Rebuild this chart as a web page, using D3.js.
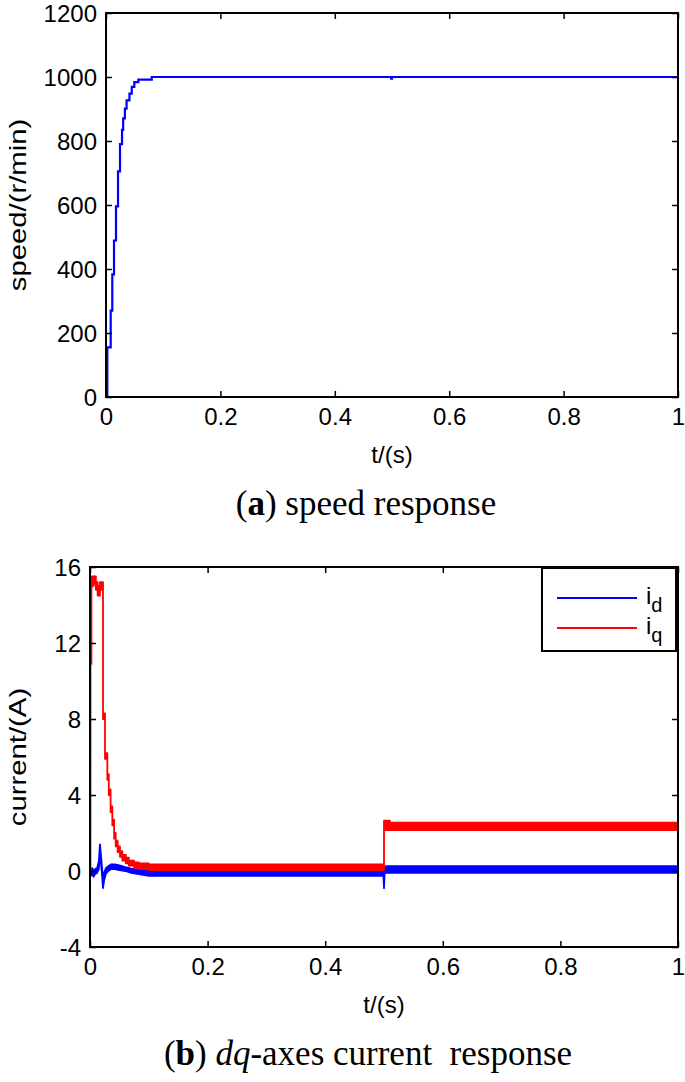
<!DOCTYPE html>
<html>
<head>
<meta charset="utf-8">
<script src="https://cdn.jsdelivr.net/npm/d3@7"></script>
<style>
  html, body { margin: 0; padding: 0; background: #fff; }
  svg text { font-family: "Liberation Sans", Arial, sans-serif; }
  .cap { font-family: "Liberation Serif", "Times New Roman", serif; }
</style>
</head>
<body>
<svg id="chart" width="685" height="1082"></svg>
<script>
// ---------- data ----------
// (a) speed response (staircase)
const speedT = [0, 0.0023, 0.0082, 0.011, 0.014, 0.0175, 0.021, 0.0245, 0.028, 0.030, 0.033, 0.036, 0.041, 0.045, 0.0495, 0.0565, 0.080, 0.4985, 0.5, 0.502, 1.0];
const speedV = [0, 155, 270, 383, 489, 596, 705, 790, 835, 871, 901, 927, 948, 969, 984, 992, 1000, 995, 1000, 1000, 1000];
const speedYTicks = [0, 200, 400, 600, 800, 1000, 1200];

// (b) dq-axes currents (noise envelope low / high)
const iqT  = [0, 0.0008, 0.0025, 0.006, 0.010, 0.013, 0.017, 0.0221, 0.0255, 0.0295, 0.032, 0.035, 0.038, 0.041, 0.0437, 0.047, 0.051, 0.055, 0.061, 0.066, 0.075, 0.083, 0.1, 0.5, 0.51, 1.0];
const iqLo = [0, 10.9, 15.0, 15.1, 14.8, 14.5, 14.8, 8.0, 5.9, 4.8, 4.0, 3.1, 2.4, 1.7, 1.3, 1.0, 0.75, 0.55, 0.4, 0.28, 0.16, 0.1, 0.05, 2.15, 2.15, 2.15];
const iqHi = [0, 11.1, 15.5, 15.5, 15.2, 15.0, 15.2, 8.3, 6.2, 5.1, 4.3, 3.4, 2.7, 2.0, 1.6, 1.3, 1.05, 0.85, 0.7, 0.55, 0.45, 0.4, 0.35, 2.65, 2.55, 2.55];

const idT  = [0, 0.002, 0.004, 0.006, 0.009, 0.012, 0.015, 0.017, 0.019, 0.021, 0.022, 0.024, 0.027, 0.031, 0.036, 0.042, 0.05, 0.06, 0.07, 0.08, 0.1, 0.3, 0.499, 0.5, 0.501, 0.503, 0.7, 1.0];
const idLo = [0, -0.25, -0.1, -0.3, -0.15, -0.1, 0.1, 1.0, 0.3, -0.4, -0.9, -0.5, -0.15, 0.0, 0.1, 0.1, 0.05, 0.0, -0.1, -0.15, -0.25, -0.25, -0.25, -0.9, -0.15, -0.1, -0.1, -0.1];
const idHi = [0, 0.1, 0.15, 0.0, 0.1, 0.15, 0.5, 1.4, 0.7, 0.0, -0.6, -0.1, 0.15, 0.25, 0.35, 0.35, 0.3, 0.2, 0.12, 0.08, 0.05, 0.05, 0.05, -0.6, 0.2, 0.25, 0.25, 0.25];
const currentYTicks = [-4, 0, 4, 8, 12, 16];

const xTicks = [0, 0.2, 0.4, 0.6, 0.8, 1];
const xTickLabels = ["0", "0.2", "0.4", "0.6", "0.8", "1"];
const legendLabels = [["i", "d"], ["i", "q"]];
const seriesColors = ["#0000ff", "#ff0000"];

// ---------- drawing ----------
const svg = d3.select("#chart");
const FS = 24;

function frame(g, x, y, yTicks, xLab, yLab) {
  const [x0, x1] = x.range();
  const [y0, y1] = y.range(); // y0 bottom, y1 top
  const xa = d3.axisBottom(x).tickValues(xTicks).tickFormat((d, i) => xTickLabels[i])
    .tickSizeInner(-6).tickSizeOuter(0).tickPadding(11);
  const gx = g.append("g").attr("transform", `translate(0,${y0})`).call(xa);
  const ya = d3.axisLeft(y).tickValues(yTicks).tickFormat(d => String(d))
    .tickSizeInner(-6).tickSizeOuter(0).tickPadding(9);
  const gy = g.append("g").attr("transform", `translate(${x0},0)`).call(ya);
  gy.selectAll("text").attr("dy", "0.36em");
  const xt = d3.axisTop(x).tickValues(xTicks).tickFormat("").tickSizeInner(-6).tickSizeOuter(0);
  const gxt = g.append("g").attr("transform", `translate(0,${y1})`).call(xt);
  const yr = d3.axisRight(y).tickValues(yTicks).tickFormat("").tickSizeInner(-6).tickSizeOuter(0);
  const gyr = g.append("g").attr("transform", `translate(${x1},0)`).call(yr);
  [gx, gy, gxt, gyr].forEach(a => {
    a.select(".domain").remove();
    a.selectAll("line").attr("stroke", "#000").attr("stroke-width", 1.5);
    a.selectAll("text").attr("font-size", FS).attr("fill", "#000")
      .attr("font-family", "Liberation Sans, Arial, sans-serif");
  });
  g.append("rect").attr("x", x0).attr("y", y1).attr("width", x1 - x0).attr("height", y0 - y1)
    .attr("fill", "none").attr("stroke", "#000").attr("stroke-width", 2);
  g.append("text").attr("x", (x0 + x1) / 2).attr("y", y0 + 66).attr("text-anchor", "middle")
    .attr("font-size", FS).text(xLab);
  const yl = g.append("text").attr("transform", `translate(26,${(y0 + y1) / 2}) rotate(-90)`)
    .attr("text-anchor", "middle").attr("font-size", FS).text(yLab);
  const len = yl.node().getComputedTextLength();
  yl.attr("textLength", len * 1.22).attr("lengthAdjust", "spacingAndGlyphs");
}

// (a)
const gA = svg.append("g");
const xA = d3.scaleLinear().domain([0, 1]).range([106, 678]);
const yA = d3.scaleLinear().domain([0, 1200]).range([397, 13]);
const speedData = speedT.map((t, i) => [t, speedV[i]]);
gA.append("path").datum(speedData)
  .attr("d", d3.line().x(d => xA(d[0])).y(d => yA(d[1])).curve(d3.curveStepAfter))
  .attr("fill", "none").attr("stroke", seriesColors[0]).attr("stroke-width", 2.2);
frame(gA, xA, yA, speedYTicks, "t/(s)", "speed/(r/min)");

const capA = gA.append("text").attr("class", "cap").attr("x", 366).attr("y", 515)
  .attr("text-anchor", "middle").attr("font-size", 35);
capA.append("tspan").text("(");
capA.append("tspan").attr("font-weight", "bold").text("a");
capA.append("tspan").text(") speed response");

// (b)
const gB = svg.append("g");
const xB = d3.scaleLinear().domain([0, 1]).range([90, 678]);
const yB = d3.scaleLinear().domain([-4, 16]).range([947, 567]);

const idData = idT.map((t, i) => ({ t, lo: idLo[i], hi: idHi[i] }));
const iqData = iqT.map((t, i) => ({ t, lo: iqLo[i], hi: iqHi[i] }));

svg.append("clipPath").attr("id", "clipB").append("rect")
  .attr("x", 90).attr("y", 567).attr("width", 588).attr("height", 380);

function band(data, color, curve) {
  const area = d3.area().x(d => xB(d.t)).y0(d => yB(d.lo)).y1(d => yB(d.hi)).curve(curve);
  gB.append("path").datum(data).attr("clip-path", "url(#clipB)")
    .attr("d", area).attr("fill", color).attr("stroke", color).attr("stroke-width", 1.8)
    .attr("stroke-linejoin", "round");
}
band(idData, seriesColors[0], d3.curveLinear);
band(iqData, seriesColors[1], d3.curveStepAfter);

frame(gB, xB, yB, currentYTicks, "t/(s)", "current/(A)");

// legend
const lg = gB.append("g");
lg.append("rect").attr("x", 542).attr("y", 568).attr("width", 134).attr("height", 83)
  .attr("fill", "#fff").attr("stroke", "#000").attr("stroke-width", 2);
legendLabels.forEach((lab, i) => {
  const yy = 598 + i * 30;
  lg.append("line").attr("x1", 557).attr("x2", 637).attr("y1", yy).attr("y2", yy)
    .attr("stroke", seriesColors[i]).attr("stroke-width", 2);
  const t = lg.append("text").attr("x", 646).attr("y", yy + 6).attr("font-size", FS);
  t.append("tspan").text(lab[0]);
  t.append("tspan").attr("dy", 8).attr("font-size", 20).text(lab[1]);
});

const capB = gB.append("text").attr("class", "cap").attr("x", 368).attr("y", 1065)
  .attr("text-anchor", "middle").attr("font-size", 35).attr("xml:space", "preserve")
  .style("white-space", "pre");
capB.append("tspan").text("(");
capB.append("tspan").attr("font-weight", "bold").text("b");
capB.append("tspan").text(") ");
capB.append("tspan").attr("font-style", "italic").text("dq");
capB.append("tspan").text("-axes current  response");
</script>
</body>
</html>
